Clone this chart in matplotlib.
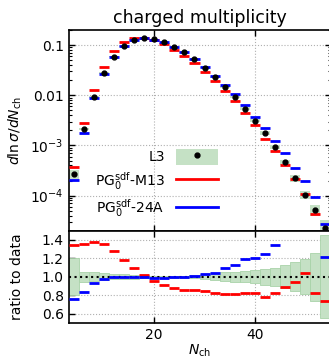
import matplotlib
matplotlib.use("Agg")
import matplotlib.pyplot as plt
import numpy as np
from matplotlib.patches import Patch
from matplotlib.lines import Line2D

plt.rcParams['font.size'] = 10
plt.rcParams['mathtext.default'] = 'it'

# bin centres (width 2)
nch = np.array([4, 6, 8, 10, 12, 14, 16, 18, 20, 22, 24, 26, 28,
                30, 32, 34, 36, 38, 40, 42, 44, 46, 48, 50, 52, 54])

# L3 data, dln(sigma)/dNch
data = np.array([2.73e-4, 2.11e-3, 9.4e-3, 0.0274, 0.0586, 0.0955, 0.125,
                 0.136, 0.130, 0.116, 0.0912, 0.0716, 0.0519, 0.0354,
                 0.0234, 0.0148, 0.00924, 0.00542, 0.00313, 0.00176,
                 9.25e-4, 4.63e-4, 2.23e-4, 1.04e-4, 5.25e-5, 2.27e-5])
# relative uncertainty of data
rel_err = np.array([0.20, 0.055, 0.047, 0.04, 0.03, 0.025, 0.02, 0.015,
                    0.012, 0.01, 0.01, 0.012, 0.018, 0.025, 0.036, 0.047,
                    0.055, 0.062, 0.073, 0.087, 0.10, 0.127, 0.157, 0.19,
                    0.26, 0.45])

# MC / data
ratio_m13 = np.array([1.34, 1.357, 1.38, 1.354, 1.28, 1.186, 1.098, 1.02,
                      0.956, 0.91, 0.88, 0.858, 0.852, 0.84, 0.818, 0.807,
                      0.814, 0.825, 0.825, 0.775, 0.825, 0.887, 0.942,
                      1.037, 0.825, 0.738])
ratio_24a = np.array([0.756, 0.836, 0.934, 0.97, 0.993, 1.0, 1.0, 1.0,
                      0.99, 0.99, 0.993, 0.995, 1.008, 1.033, 1.04, 1.098,
                      1.131, 1.19, 1.204, 1.248, 1.343, 1.52, 1.56, 1.9,
                      1.77, 1.215])

mc_m13 = data * ratio_m13
mc_24a = data * ratio_24a

green = '#c5e1c5'
red = '#ff0000'
blue = '#0000ff'

W, H = 329, 361
fig = plt.figure(figsize=(W / 100, H / 100), dpi=100)
left, right = 68.5, 330.5
ax1 = fig.add_axes([left / W, 1 - 230.7 / H, (right - left) / W, (230.7 - 30) / H])
ax2 = fig.add_axes([left / W, 1 - 322.7 / H, (right - left) / W, (322.7 - 230.7) / H],
                   sharex=ax1)

lo = nch - 1
hi = nch + 1

# ---- top panel
ax1.bar(nch, 2 * rel_err * data, bottom=data * (1 - rel_err), width=2,
        color=green, edgecolor='none', zorder=2)
ax1.plot(nch, data, 'o', color='black', ms=3.5, zorder=5)
ax1.hlines(mc_m13, lo, hi, color=red, lw=2, zorder=4)
ax1.hlines(mc_24a, lo, hi, color=blue, lw=2, zorder=4)
ax1.set_yscale('log')
ax1.set_ylim(2e-5, 0.2)
ax1.set_xlim(3, 55)
ax1.set_yticks([1e-4, 1e-3, 1e-2, 1e-1])
ax1.set_yticklabels(['$\\mathregular{10^{-4}}$', '$\\mathregular{10^{-3}}$', '0.01', '0.1'])
ax1.set_ylabel('$d\\ln\\sigma/dN_{\\rm ch}$')
ax1.set_title('charged multiplicity', fontsize=12.5, pad=5)
plt.setp(ax1.get_xticklabels(), visible=False)

leg_handles = [(Patch(facecolor=green, edgecolor='none'),
                Line2D([], [], marker='o', color='black', ls='none', ms=3.5)),
               Line2D([], [], color=red, lw=2),
               Line2D([], [], color=blue, lw=2)]
leg_labels = ['L3', 'PG$_0^{\\rm sdf}$-M13', 'PG$_0^{\\rm sdf}$-24A']
ax1.legend(leg_handles, leg_labels, loc='upper right', frameon=False,
           markerfirst=False, handlelength=3.0, handleheight=1.4,
           labelspacing=0.4, bbox_to_anchor=(230 / W, 1 - 136 / H),
           bbox_transform=fig.transFigure)

# ---- ratio panel
ax2.bar(nch, 2 * rel_err, bottom=1 - rel_err, width=2, color=green,
        edgecolor='#a9d3a9', lw=0.6, zorder=2)
ax2.axhline(1.0, color='black', ls=':', lw=1.5, zorder=3)
ax2.hlines(ratio_m13, lo, hi, color=red, lw=2, zorder=4)
ax2.hlines(ratio_24a, lo, hi, color=blue, lw=2, zorder=4)
ax2.set_ylim(0.5, 1.5)
ax2.set_yticks([0.6, 0.8, 1.0, 1.2, 1.4])
ax2.set_xticks([20, 40])
ax2.set_ylabel('ratio to data')
ax2.set_xlabel('$N_{\\rm ch}$', labelpad=1)

for ax in (ax1, ax2):
    ax.grid(True, which='major', ls=':', color='#b0b0b0', lw=0.8, zorder=0)
    ax.set_axisbelow(True)
    ax.tick_params(which='both', direction='in', top=True, right=True)
    ax.tick_params(which='major', length=4.5, width=1)
    ax.tick_params(which='minor', length=2, width=0.8)
    for s in ax.spines.values():
        s.set_linewidth(1.2)
ax2.xaxis.set_minor_locator(plt.NullLocator())
ax1.yaxis.set_label_coords(-0.17, 0.5)
ax2.yaxis.set_label_coords(-0.17, 0.5)

fig.savefig('out.png', dpi=100)
